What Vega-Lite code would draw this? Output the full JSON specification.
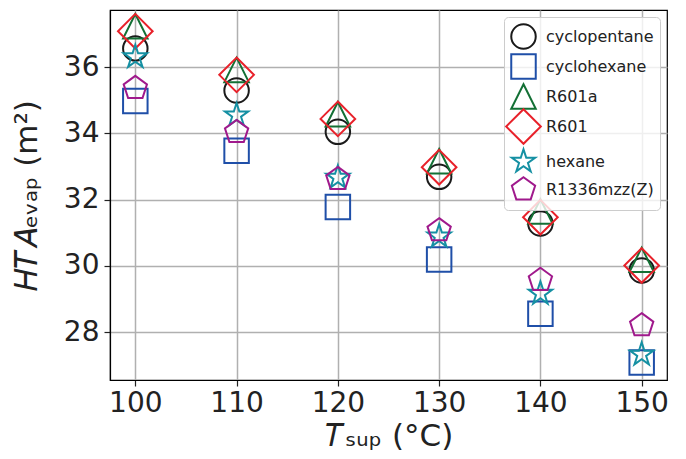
{
  "$schema": "https://vega.github.io/schema/vega-lite/v6.json",
  "width": 557,
  "height": 370,
  "autosize": {"type": "none"},
  "padding": {"left": 110, "top": 10, "right": 19, "bottom": 79},
  "background": "white",
  "config": {
    "font": "DejaVu Sans",
    "view": {"stroke": "#000000", "strokeWidth": 1.2},
    "axis": {
      "labelFont": "DejaVu Sans",
      "labelFontSize": 28,
      "labelColor": "#222222",
      "titleFont": "DejaVu Sans",
      "titleFontSize": 31,
      "titleFontWeight": "normal",
      "titleColor": "#222222",
      "domainColor": "#000000",
      "domainWidth": 1.2,
      "tickColor": "#222222",
      "tickSize": 6,
      "tickWidth": 1.2,
      "gridColor": "#b0b0b0",
      "gridWidth": 1.5,
      "gridOpacity": 1
    },
    "legend": {
      "labelFont": "DejaVu Sans",
      "labelFontSize": 16,
      "labelColor": "#222222",
      "strokeColor": "#cccccc",
      "fillColor": "rgba(255,255,255,0.8)",
      "cornerRadius": 4,
      "padding": 6,
      "symbolSize": 600,
      "symbolStrokeWidth": 2,
      "symbolFillColor": "transparent",
      "labelOffset": 9
    }
  },
  "data": {
    "values": [
      {"T": 100, "fluid": "cyclopentane", "HTA": 36.57},
      {"T": 110, "fluid": "cyclopentane", "HTA": 35.30},
      {"T": 120, "fluid": "cyclopentane", "HTA": 34.05},
      {"T": 130, "fluid": "cyclopentane", "HTA": 32.69},
      {"T": 140, "fluid": "cyclopentane", "HTA": 31.28},
      {"T": 150, "fluid": "cyclopentane", "HTA": 29.86},
      {"T": 100, "fluid": "cyclohexane", "HTA": 34.98},
      {"T": 110, "fluid": "cyclohexane", "HTA": 33.48},
      {"T": 120, "fluid": "cyclohexane", "HTA": 31.78},
      {"T": 130, "fluid": "cyclohexane", "HTA": 30.19},
      {"T": 140, "fluid": "cyclohexane", "HTA": 28.55},
      {"T": 150, "fluid": "cyclohexane", "HTA": 27.08},
      {"T": 100, "fluid": "R601a", "HTA": 37.24},
      {"T": 110, "fluid": "R601a", "HTA": 35.92},
      {"T": 120, "fluid": "R601a", "HTA": 34.58},
      {"T": 130, "fluid": "R601a", "HTA": 33.16},
      {"T": 140, "fluid": "R601a", "HTA": 31.64},
      {"T": 150, "fluid": "R601a", "HTA": 30.18},
      {"T": 100, "fluid": "R601", "HTA": 37.09},
      {"T": 110, "fluid": "R601", "HTA": 35.77},
      {"T": 120, "fluid": "R601", "HTA": 34.44},
      {"T": 130, "fluid": "R601", "HTA": 32.98},
      {"T": 140, "fluid": "R601", "HTA": 31.47},
      {"T": 150, "fluid": "R601", "HTA": 30.01},
      {"T": 100, "fluid": "hexane", "HTA": 36.31},
      {"T": 110, "fluid": "hexane", "HTA": 34.55},
      {"T": 120, "fluid": "hexane", "HTA": 32.67},
      {"T": 130, "fluid": "hexane", "HTA": 30.89},
      {"T": 140, "fluid": "hexane", "HTA": 29.16},
      {"T": 150, "fluid": "hexane", "HTA": 27.32},
      {"T": 100, "fluid": "R1336mzz(Z)", "HTA": 35.37},
      {"T": 110, "fluid": "R1336mzz(Z)", "HTA": 34.04},
      {"T": 120, "fluid": "R1336mzz(Z)", "HTA": 32.62},
      {"T": 130, "fluid": "R1336mzz(Z)", "HTA": 31.07},
      {"T": 140, "fluid": "R1336mzz(Z)", "HTA": 29.57},
      {"T": 150, "fluid": "R1336mzz(Z)", "HTA": 28.20}
    ]
  },
  "mark": {"type": "point", "filled": false, "size": 600, "strokeWidth": 2, "opacity": 1},
  "encoding": {
    "x": {
      "field": "T",
      "type": "quantitative",
      "scale": {"domain": [97.5, 152.5], "nice": false, "zero": false},
      "axis": {"values": [100, 110, 120, 130, 140, 150], "title": "𝑇ₛᵤₚ (°C)", "titlePadding": 4, "labelPadding": 3}
    },
    "y": {
      "field": "HTA",
      "type": "quantitative",
      "scale": {"domain": [26.55, 37.73], "nice": false, "zero": false},
      "axis": {"values": [28, 30, 32, 34, 36], "title": "𝐻𝑇𝐴ₑᵥₐₚ (m²)", "titlePadding": 20, "labelPadding": 5}
    },
    "stroke": {
      "field": "fluid",
      "type": "nominal",
      "scale": {
        "domain": ["cyclopentane", "cyclohexane", "R601a", "R601", "hexane", "R1336mzz(Z)"],
        "range": ["#1a1a1a", "#1f4fa8", "#137035", "#e8212a", "#1590a3", "#a0198c"]
      },
      "legend": {"title": null, "orient": "top-right", "offset": 7, "rowPadding": -14}
    },
    "shape": {
      "field": "fluid",
      "type": "nominal",
      "scale": {
        "domain": ["cyclopentane", "cyclohexane", "R601a", "R601", "hexane", "R1336mzz(Z)"],
        "range": [
          "circle",
          "M-1,-1L1,-1L1,1L-1,1Z",
          "M0,-1L1,1L-1,1Z",
          "M0,-1.414L1.414,0L0,1.414L-1.414,0Z",
          "M0,-1L0.2245,-0.309L0.951,-0.309L0.363,0.118L0.588,0.809L0,0.382L-0.588,0.809L-0.363,0.118L-0.951,-0.309L-0.2245,-0.309Z",
          "M0,-1L0.951,-0.309L0.588,0.809L-0.588,0.809L-0.951,-0.309Z"
        ]
      },
      "legend": {"title": null, "orient": "top-right", "offset": 7, "rowPadding": -14}
    }
  }
}
